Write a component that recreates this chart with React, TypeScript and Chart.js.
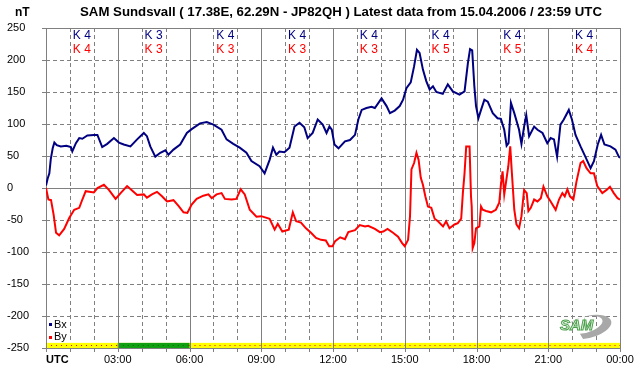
import { useEffect, useRef } from "react";
import { Chart, registerables } from "chart.js";

Chart.register(...registerables);

// ---- data ----
const bxHours = [0, 0.07, 0.14, 0.2, 0.28, 0.35, 0.45, 0.62, 0.85, 1.04, 1.1, 1.25, 1.39, 1.52, 1.73, 2.0, 2.15, 2.35, 2.56, 2.84, 3.05, 3.25, 3.53, 3.81, 4.09, 4.22, 4.36, 4.57, 4.78, 4.99, 5.12, 5.33, 5.61, 5.89, 6.09, 6.44, 6.72, 7.0, 7.34, 7.55, 7.83, 8.1, 8.38, 8.59, 8.93, 9.14, 9.35, 9.49, 9.63, 9.76, 9.97, 10.18, 10.39, 10.6, 10.8, 10.94, 11.15, 11.36, 11.57, 11.73, 11.85, 11.95, 12.06, 12.23, 12.5, 12.71, 12.92, 13.06, 13.2, 13.4, 13.61, 13.75, 14.03, 14.24, 14.38, 14.58, 14.79, 14.93, 15.07, 15.25, 15.39, 15.51, 15.62, 15.76, 15.9, 16.04, 16.18, 16.32, 16.59, 16.8, 17.01, 17.29, 17.5, 17.64, 17.73, 17.82, 17.91, 17.98, 18.08, 18.19, 18.33, 18.47, 18.68, 18.88, 19.02, 19.16, 19.26, 19.34, 19.44, 19.58, 19.78, 19.88, 19.99, 20.08, 20.2, 20.41, 20.55, 20.76, 20.96, 21.1, 21.24, 21.37, 21.51, 21.65, 21.86, 21.99, 22.14, 22.35, 22.55, 22.77, 22.91, 23.07, 23.21, 23.35, 23.6, 23.81, 23.95, 24.0];
const bxValues = [4, 15, 23, 45, 62, 71, 67, 65, 66, 64, 57, 70, 78, 77, 82, 83, 83, 64, 69, 78, 71, 68, 65, 76, 86, 81, 65, 49, 55, 59, 52, 60, 68, 86, 92, 101, 103, 99, 91, 76, 69, 63, 55, 42, 34, 23, 44, 63, 52, 57, 56, 63, 96, 102, 95, 78, 86, 107, 99, 86, 96, 91, 68, 62, 73, 75, 83, 107, 122, 125, 127, 125, 140, 128, 117, 121, 128, 138, 156, 165, 190, 216, 211, 185, 167, 154, 159, 150, 147, 162, 151, 146, 151, 195, 217, 215, 159, 128, 109, 122, 138, 135, 117, 109, 108, 91, 66, 70, 133, 117, 91, 69, 96, 114, 81, 96, 91, 86, 70, 78, 76, 49, 99, 107, 122, 107, 83, 65, 49, 31, 42, 68, 83, 68, 65, 60, 49, 47];

const byHours = [0, 0.1, 0.21, 0.32, 0.42, 0.55, 0.76, 0.97, 1.18, 1.39, 1.52, 1.66, 2.0, 2.15, 2.42, 2.63, 2.91, 3.12, 3.39, 3.6, 3.81, 4.09, 4.22, 4.43, 4.64, 4.85, 5.06, 5.33, 5.54, 5.75, 5.91, 6.09, 6.3, 6.58, 6.79, 6.93, 7.13, 7.34, 7.48, 7.76, 7.96, 8.14, 8.31, 8.52, 8.8, 9.0, 9.35, 9.56, 9.69, 9.88, 10.15, 10.32, 10.46, 10.66, 10.87, 11.08, 11.29, 11.5, 11.7, 11.84, 11.98, 12.09, 12.3, 12.5, 12.64, 12.92, 13.12, 13.34, 13.47, 13.75, 13.96, 14.1, 14.28, 14.51, 14.72, 14.89, 15.0, 15.14, 15.22, 15.28, 15.39, 15.49, 15.58, 15.67, 15.76, 15.86, 15.97, 16.11, 16.25, 16.39, 16.6, 16.73, 16.87, 17.08, 17.22, 17.36, 17.43, 17.5, 17.57, 17.71, 17.77, 17.8, 17.84, 17.91, 17.98, 18.12, 18.19, 18.26, 18.4, 18.61, 18.81, 18.95, 19.02, 19.09, 19.16, 19.23, 19.33, 19.41, 19.48, 19.58, 19.67, 19.78, 19.88, 19.99, 20.1, 20.17, 20.27, 20.41, 20.55, 20.69, 20.8, 20.96, 21.1, 21.31, 21.45, 21.59, 21.69, 21.8, 21.91, 22.05, 22.18, 22.35, 22.46, 22.6, 22.77, 22.91, 23.05, 23.26, 23.44, 23.58, 23.74, 23.9, 24.0];
const byValues = [0, -18, -19, -42, -70, -74, -64, -47, -34, -31, -18, -5, -7, 0, 5, -3, -17, -8, 3, -4, -11, -10, -15, -10, -6, -13, -21, -19, -28, -38, -39, -26, -17, -12, -10, -16, -10, -8, -17, -18, -17, -2, -10, -34, -45, -44, -48, -65, -56, -68, -65, -38, -52, -54, -63, -70, -78, -81, -82, -91, -91, -83, -77, -80, -69, -66, -58, -60, -59, -64, -69, -68, -64, -70, -76, -86, -91, -81, -44, 29, 39, 55, 44, 16, 5, -13, -29, -31, -48, -52, -60, -52, -63, -57, -55, -48, -8, 23, 65, 65, -13, -29, -94, -86, -63, -60, -29, -34, -36, -38, -34, -23, 5, 26, -10, 8, 34, 65, 23, -34, -57, -63, -44, -3, -8, -36, -31, -18, -21, -16, 2, -13, -21, -34, -18, -8, -13, -2, -13, -18, 10, 39, 42, 31, 23, 23, 3, -8, -3, 2, -8, -16, -18];

const yTickValues = [250, 200, 150, 100, 50, 0, -50, -100, -150, -200, -250];
const xTickHours = [0, 3, 6, 9, 12, 15, 18, 21, 24];
const xTickLabels = ["UTC", "03:00", "06:00", "09:00", "12:00", "15:00", "18:00", "21:00", "00:00"];
const kBx = [4, 3, 4, 4, 4, 4, 4, 4];
const kBy = [4, 3, 3, 3, 3, 5, 5, 4];
const titleText = "SAM Sundsvall ( 17.38E, 62.29N - JP82QH ) Latest data from 15.04.2006 / 23:59 UTC";

const FONT = "'Liberation Sans', Arial, sans-serif";
const BLUE = "#000080";
const RED = "#ff0000";
const GRID = "#808080";

const decor = {
  id: "decor",
  beforeDraw(chart: any) {
    const ctx = chart.ctx;
    ctx.save();
    ctx.fillStyle = "#ffffff";
    ctx.fillRect(0, 0, chart.width, chart.height);
    ctx.restore();
  },
  beforeDatasetsDraw(chart: any) {
    const { ctx, chartArea: a, scales } = chart;
    const xs = scales.x;
    const ys = scales.y;
    const px = (h: number) => Math.round(xs.getPixelForValue(h)) + 0.5;
    const py = (v: number) => Math.round(ys.getPixelForValue(v)) + 0.5;
    ctx.save();
    ctx.lineWidth = 1;
    ctx.strokeStyle = GRID;
    // dashed grid
    ctx.setLineDash([4, 3]);
    for (let h = 1; h < 24; h++) {
      if (h % 3 === 0) continue;
      ctx.beginPath();
      ctx.moveTo(px(h), a.top);
      ctx.lineTo(px(h), a.bottom);
      ctx.stroke();
    }
    for (const v of yTickValues) {
      if (v === 0 || v === 250 || v === -250) continue;
      ctx.beginPath();
      ctx.moveTo(a.left, py(v));
      ctx.lineTo(a.right, py(v));
      ctx.stroke();
    }
    ctx.setLineDash([]);
    // logo (behind data)
    ctx.save();
    ctx.fillStyle = "#a8a8a8";
    ctx.beginPath();
    ctx.ellipse(588, 327, 24, 11, -0.25, -2.3, 1.9, false);
    ctx.ellipse(584, 325, 19, 8, -0.25, 1.9, -2.3, true);
    ctx.closePath();
    ctx.fill();
    ctx.font = `italic bold 15px ${FONT}`;
    ctx.textBaseline = "middle";
    ctx.textAlign = "left";
    ctx.lineWidth = 1;
    ctx.fillStyle = "#e4f2e4";
    ctx.strokeStyle = "#4aa04a";
    ctx.fillText("SAM", 560, 326);
    ctx.strokeText("SAM", 560, 326);
    ctx.restore();
    // yellow status band
    const bandTop = ys.getPixelForValue(-242);
    const bandBot = ys.getPixelForValue(-250);
    ctx.fillStyle = "#ffff00";
    ctx.fillRect(a.left, bandTop, a.right - a.left, bandBot - bandTop);
    ctx.fillStyle = "#11a011";
    const g0 = xs.getPixelForValue(3);
    const g1 = xs.getPixelForValue(6);
    ctx.fillRect(g0, bandTop, g1 - g0, bandBot - bandTop);
    // dotted line through band
    const midY = Math.round((bandTop + bandBot) / 2) + 0.5;
    ctx.strokeStyle = RED;
    ctx.setLineDash([1, 4]);
    ctx.beginPath();
    ctx.moveTo(a.left, midY);
    ctx.lineTo(g0, midY);
    ctx.moveTo(g1, midY);
    ctx.lineTo(a.right, midY);
    ctx.stroke();
    ctx.strokeStyle = "#0a6a0a";
    ctx.beginPath();
    ctx.moveTo(g0, midY);
    ctx.lineTo(g1, midY);
    ctx.stroke();
    ctx.setLineDash([]);
    // solid grid
    ctx.strokeStyle = GRID;
    for (const h of xTickHours) {
      ctx.beginPath();
      ctx.moveTo(px(h), a.top);
      ctx.lineTo(px(h), a.bottom + 4);
      ctx.stroke();
    }
    for (let h = 1; h < 24; h++) {
      if (h % 3 === 0) continue;
      ctx.beginPath();
      ctx.moveTo(px(h), a.bottom);
      ctx.lineTo(px(h), a.bottom + 4);
      ctx.stroke();
    }
    for (const v of [250, 0, -250]) {
      ctx.beginPath();
      ctx.moveTo(a.left, py(v));
      ctx.lineTo(a.right, py(v));
      ctx.stroke();
    }
    for (const v of yTickValues) {
      ctx.beginPath();
      ctx.moveTo(a.left - 4, py(v));
      ctx.lineTo(a.left, py(v));
      ctx.stroke();
    }
    ctx.restore();
  },
  afterDraw(chart: any) {
    const { ctx, scales } = chart;
    const xs = scales.x;
    const ys = scales.y;
    ctx.save();
    ctx.fillStyle = "#000000";
    ctx.textBaseline = "middle";
    // title
    ctx.font = `bold 12px ${FONT}`;
    const tw = ctx.measureText(titleText).width;
    const target = 522;
    ctx.save();
    ctx.translate(80, 13);
    ctx.scale(target / tw, 1);
    ctx.textAlign = "left";
    ctx.fillText(titleText, 0, 0);
    ctx.restore();
    ctx.textAlign = "left";
    ctx.fillText("nT", 15, 13);
    // y labels
    ctx.font = `11px ${FONT}`;
    ctx.textAlign = "left";
    for (const v of yTickValues) {
      ctx.fillText(String(v), 7, ys.getPixelForValue(v));
    }
    // x labels
    xTickHours.forEach((h, i) => {
      const x = xs.getPixelForValue(h);
      if (i === 0) {
        ctx.font = `bold 11px ${FONT}`;
        ctx.textAlign = "left";
        ctx.fillText(xTickLabels[i], x, 360);
      } else {
        ctx.font = `11px ${FONT}`;
        ctx.textAlign = "center";
        ctx.fillText(xTickLabels[i], x, 360);
      }
    });
    // K indices
    ctx.font = `12px ${FONT}`;
    ctx.textAlign = "center";
    kBx.forEach((k, i) => {
      const x = xs.getPixelForValue(i * 3 + 1.5);
      ctx.fillStyle = BLUE;
      ctx.fillText("K " + k, x, 36);
      ctx.fillStyle = RED;
      ctx.fillText("K " + kBy[i], x, 50);
    });
    // legend
    ctx.font = `11px ${FONT}`;
    ctx.textAlign = "left";
    ctx.fillStyle = BLUE;
    ctx.fillRect(49, 323, 3, 3);
    ctx.fillStyle = RED;
    ctx.fillRect(49, 336, 3, 3);
    ctx.fillStyle = "#000000";
    ctx.fillText("Bx", 54, 325);
    ctx.fillText("By", 54, 337);
    ctx.restore();
  },
};

export default function App() {
  const ref = useRef<HTMLCanvasElement | null>(null);
  useEffect(() => {
    if (!ref.current) return;
    const chart = new Chart(ref.current, {
      type: "line",
      data: {
        datasets: [
          {
            label: "Bx",
            data: bxHours.map((h, i) => ({ x: h, y: bxValues[i] })),
            borderColor: BLUE,
            borderWidth: 2,
            pointRadius: 0,
            tension: 0,
            fill: false,
          },
          {
            label: "By",
            data: byHours.map((h, i) => ({ x: h, y: byValues[i] })),
            borderColor: RED,
            borderWidth: 2,
            pointRadius: 0,
            tension: 0,
            fill: false,
          },
        ],
      },
      options: {
        responsive: false,
        devicePixelRatio: 1,
        animation: false,
        layout: { padding: { left: 46, right: 22, top: 28, bottom: 28 } },
        scales: {
          x: { type: "linear", min: 0, max: 24, display: false },
          y: { type: "linear", min: -250, max: 250, display: false },
        },
        plugins: { legend: { display: false }, tooltip: { enabled: false }, title: { display: false } },
      },
      plugins: [decor],
    });
    return () => chart.destroy();
  }, []);
  return (
    <div style={{ position: "absolute", left: 0, top: 0, width: 642, height: 376 }}>
      <canvas ref={ref} width={642} height={376} style={{ display: "block" }} />
    </div>
  );
}
